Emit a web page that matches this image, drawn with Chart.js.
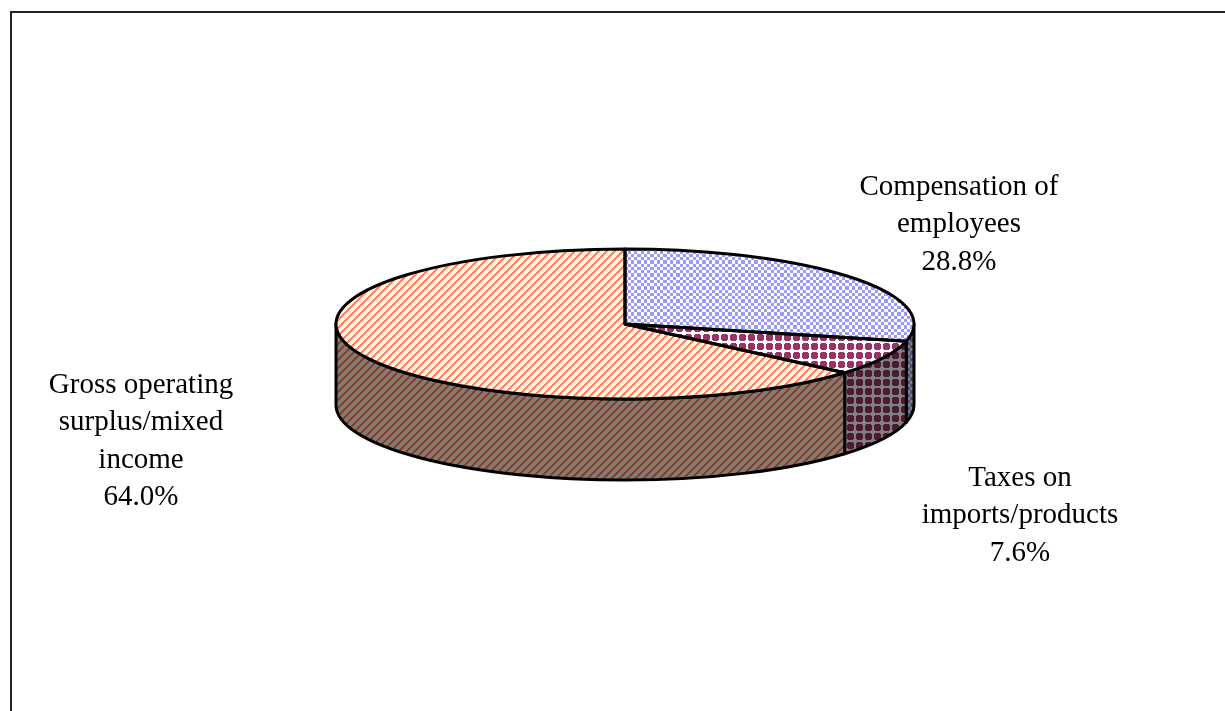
<!DOCTYPE html>
<html>
<head>
<meta charset="utf-8">
<style>html,body{margin:0;padding:0;background:#fff;overflow:hidden}canvas{display:block}</style>
<script src="https://cdn.jsdelivr.net/npm/chart.js@4/dist/chart.umd.min.js"></script>
</head>
<body>
<canvas id="c" width="1225" height="711"></canvas>
<script>
const categories = ['Compensation of employees', 'Taxes on imports/products', 'Gross operating surplus/mixed income'];
const shares = [28.8, 7.6, 64.0];
const labelLines = [['Compensation of', 'employees'], ['Taxes on', 'imports/products'], ['Gross operating', 'surplus/mixed', 'income']];

const SQUASH = 75 / 289, DEPTH = 81, LINE = 3;
const labelAnchors = [[959, 187], [1020, 478], [141, 385]];
const LINE_GAP = 37.5;

function tile(w, h, paint) {
  const c = document.createElement('canvas');
  c.width = w; c.height = h;
  const g = c.getContext('2d');
  for (let y = 0; y < h; y++) for (let x = 0; x < w; x++) {
    g.fillStyle = paint(x, y);
    g.fillRect(x, y, 1, 1);
  }
  return g.createPattern(c, 'repeat');
}
const checks = (a, b) => (x, y) => ((Math.floor(x / 3.25) + Math.floor(y / 3.25)) % 2 === 0 ? a : b);
const dots = (a, b) => (x, y) => {
  const dx = Math.abs(x - 4), dy = Math.abs(y - 4);
  return (dx < 3.5 && dy < 3.5 && dx + dy < 5.5) ? a : b;
};
const stripes = (a, b) => (x, y) => ((x + y) % 8 < 3 ? a : b);

const topFill = [
  tile(13, 13, checks('#9999FF', '#FFFFFF')),
  tile(9, 9, dots('#993366', '#FFFFFF')),
  tile(8, 8, stripes('#FF8080', '#FFFFCC'))
];
const wallFill = [
  tile(13, 13, checks('#4C4C80', '#808080')),
  tile(9, 9, dots('#4C1A33', '#808080')),
  tile(8, 8, stripes('#804040', '#808066'))
];

const piePlugin = {
  id: 'tiltedPie',
  beforeDraw(chart) {
    const { ctx } = chart;
    ctx.save();
    ctx.strokeStyle = '#222';
    ctx.lineWidth = 2;
    ctx.beginPath();
    ctx.moveTo(11, 711); ctx.lineTo(11, 12); ctx.lineTo(1225, 12);
    ctx.stroke();
    ctx.restore();
  },
  beforeDatasetDraw(chart) {
    const { ctx } = chart;
    const arcs = chart.getDatasetMeta(0).data;
    const { x: cx, y: cy, outerRadius: r } = arcs[0];
    const ry = r * SQUASH;
    // side wall under the front half of the pie
    arcs.forEach((a, i) => {
      const from = Math.max(a.startAngle, 0), to = Math.min(a.endAngle, Math.PI);
      if (to <= from) return;
      ctx.save();
      ctx.beginPath();
      ctx.ellipse(cx, cy, r, ry, 0, from, to);
      ctx.ellipse(cx, cy + DEPTH, r, ry, 0, to, from, true);
      ctx.closePath();
      ctx.fillStyle = wallFill[i];
      ctx.fill();
      ctx.lineWidth = LINE; ctx.strokeStyle = '#000'; ctx.lineJoin = 'round';
      ctx.stroke();
      ctx.restore();
    });
    // squash the library's arcs into the tilted ellipse
    const m = new DOMMatrix().translate(0, cy).scale(1, SQUASH).translate(0, -cy);
    topFill.forEach(p => p.setTransform(m.inverse()));
    ctx.save();
    ctx.transform(m.a, m.b, m.c, m.d, m.e, m.f);
  },
  afterDatasetDraw(chart) {
    const { ctx } = chart;
    ctx.restore();
    const arcs = chart.getDatasetMeta(0).data;
    const { x: cx, y: cy, outerRadius: r } = arcs[0];
    const ry = r * SQUASH;
    ctx.save();
    ctx.lineWidth = LINE; ctx.strokeStyle = '#000'; ctx.lineJoin = 'round';
    arcs.forEach(a => {
      ctx.beginPath();
      ctx.moveTo(cx, cy);
      ctx.ellipse(cx, cy, r, ry, 0, a.startAngle, a.endAngle);
      ctx.closePath();
      ctx.stroke();
    });
    ctx.restore();
  },
  afterDraw(chart) {
    const { ctx } = chart;
    ctx.save();
    ctx.fillStyle = '#000';
    ctx.font = '29px "Liberation Serif"';
    ctx.textAlign = 'center';
    ctx.textBaseline = 'middle';
    shares.forEach((v, i) => {
      const lines = [...labelLines[i], v.toFixed(1) + '%'];
      const [ax, ay] = labelAnchors[i];
      lines.forEach((t, j) => ctx.fillText(t, ax, ay + j * LINE_GAP));
    });
    ctx.restore();
  }
};

new Chart(document.getElementById('c'), {
  type: 'pie',
  data: {
    labels: categories,
    datasets: [{ data: shares, backgroundColor: topFill, borderWidth: 0 }]
  },
  options: {
    responsive: false,
    animation: false,
    radius: 289,
    layout: { padding: { left: 25, bottom: 63 } },
    plugins: { legend: { display: false }, tooltip: { enabled: false } },
    events: []
  },
  plugins: [piePlugin]
});
</script>
</body>
</html>
